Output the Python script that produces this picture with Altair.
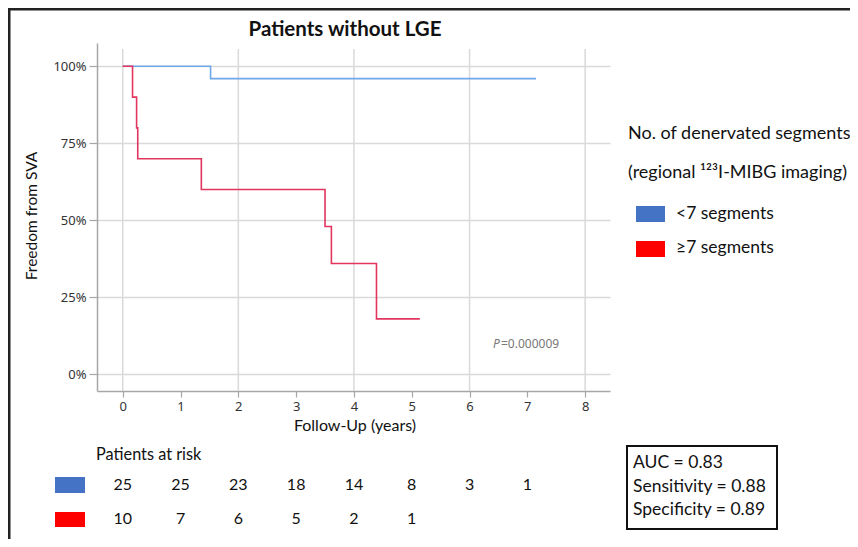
import altair as alt
import pandas as pd

# ---- data ----
blue_t = [0.0, 1.52, 7.15]
blue_s = [1.0, 0.96, 0.96]
red_t = [0.0, 0.17, 0.24, 0.26, 1.36, 3.50, 3.61, 4.39, 5.14]
red_s = [1.0, 0.90, 0.80, 0.70, 0.60, 0.48, 0.36, 0.18, 0.18]
risk_years_blue = [0, 1, 2, 3, 4, 5, 6, 7]
risk_blue = [25, 25, 23, 18, 14, 8, 3, 1]
risk_years_red = [0, 1, 2, 3, 4, 5]
risk_red = [10, 7, 6, 5, 2, 1]
grid_years = [0, 2, 4, 6, 8]
x_ticks = [0, 1, 2, 3, 4, 5, 6, 7, 8]
y_ticks = [0, 0.25, 0.5, 0.75, 1.0]

BLUE_LINE = "#6FA8EA"
RED_LINE = "#E2365E"
BLUE_SW = "#4472C4"
RED_SW = "#FF0000"
FONT = "Lato"
AXFONT = "Noto Sans"

curves = pd.concat([
    pd.DataFrame({"t": blue_t, "s": blue_s, "g": "blue"}),
    pd.DataFrame({"t": red_t, "s": red_s, "g": "red"}),
])

xscale = alt.Scale(domain=[-0.445, 8.43], nice=False, zero=False)
yscale = alt.Scale(domain=[-0.054, 1.0756], nice=False, zero=False)
xaxis = alt.Axis(values=x_ticks, title=None, grid=False, tickSize=6, labelPadding=3,
                 format="d")
yaxis = alt.Axis(values=y_ticks, title=None, grid=True, tickSize=8, labelPadding=3,
                 format=".0%")

def X(field):
    return alt.X(field, type="quantitative", scale=xscale, axis=xaxis)

def Y(field):
    return alt.Y(field, type="quantitative", scale=yscale, axis=yaxis)

one = pd.DataFrame({"a": [0]})

vgrid = alt.Chart(pd.DataFrame({"t": grid_years})).mark_rule(
    color="#d9d9d9", strokeWidth=1.5
).encode(x=X("t"), y=alt.value(6), y2=alt.value(348))

lines = alt.Chart(curves).mark_line(interpolate="step-after", strokeWidth=1.6).encode(
    x=X("t"), y=Y("s"),
    color=alt.Color("g:N", scale=alt.Scale(domain=["blue", "red"], range=[BLUE_LINE, RED_LINE]),
                    legend=None),
    detail="g:N",
)

risk_b = alt.Chart(pd.DataFrame({"t": risk_years_blue, "n": risk_blue})).mark_text(
    font=FONT, fontSize=16, color="#111", baseline="middle"
).encode(x=X("t"), y=alt.value(442), text="n:Q")
risk_r = alt.Chart(pd.DataFrame({"t": risk_years_red, "n": risk_red})).mark_text(
    font=FONT, fontSize=16, color="#111", baseline="middle"
).encode(x=X("t"), y=alt.value(476), text="n:Q")

def txt(s, x, y, size=15, weight="normal", align="left", color="#111", style="normal",
        font=FONT, angle=0):
    kw = dict(text=s, font=font, fontSize=size, fontWeight=weight, align=align,
              baseline="middle", color=color, fontStyle=style)
    if angle:
        kw["angle"] = angle
    return alt.Chart(one).mark_text(**kw).encode(x=alt.value(x), y=alt.value(y))

def box(x, x2, y, y2, fill=None, stroke=None, sw=0):
    kw = {}
    if fill:
        kw["fill"] = fill
    else:
        kw["fillOpacity"] = 0
    if stroke:
        kw["stroke"] = stroke
        kw["strokeWidth"] = sw
    return alt.Chart(one).mark_rect(**kw).encode(
        x=alt.value(x), x2=alt.value(x2), y=alt.value(y), y2=alt.value(y2))

annotations = [
    box(-88, 900, -34, 700, stroke="#222", sw=3),
    txt("Patients without LGE", 248, -13, size=20.5, weight="bold", align="center"),
    txt("Freedom from SVA", -65, 173, size=15.5, align="center", angle=270),
    txt("Follow-Up (years)", 258, 383, size=16, align="center"),
    txt("P", 396, 301, size=12, style="italic", color="#777", font=AXFONT),
    txt("=0.000009", 404, 301, size=12, color="#777", font=AXFONT),
    txt("No. of denervated segments", 531, 91, size=18),
    txt("(regional \u00b9\u00b2\u00b3I-MIBG imaging)", 531, 130, size=18),
    box(539, 568, 163, 179, fill=BLUE_SW),
    box(539, 568, 198, 214, fill=RED_SW),
    txt("<7 segments", 579, 171, size=17.5),
    txt("\u22657 segments", 579, 205, size=17.5),
    txt("Patients at risk", -1, 412, size=16.3),
    box(-42, -12, 434, 450, fill=BLUE_SW),
    box(-42, -12, 469, 484, fill=RED_SW),
    box(530, 680, 403, 486, stroke="#111", sw=2),
    txt("AUC = 0.83", 536, 420, size=17.5),
    txt("Sensitivity = 0.88", 536, 444, size=17.5),
    txt("Specificity = 0.89", 536, 467, size=17.5),
]

chart = alt.layer(vgrid, lines, risk_b, risk_r, *annotations).properties(
    width=513, height=348,
    autosize=alt.AutoSizeParams(type="none"),
    padding={"left": 89, "top": 35, "right": 240, "bottom": 148},
).configure_view(strokeWidth=0).configure_axis(
    labelFont=AXFONT, labelFontSize=13, labelColor="#333",
    domainColor="#a6a6a6", domainWidth=1.5, tickColor="#a6a6a6", tickWidth=1.2,
    gridColor="#d9d9d9", gridWidth=1.5,
)

chart.save("out.html", embed_options={"renderer": "svg", "actions": False})
